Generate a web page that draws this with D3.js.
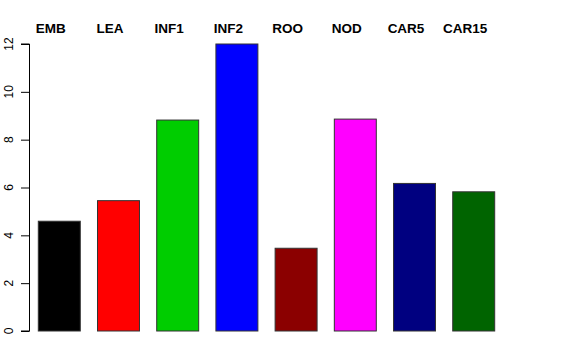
<!DOCTYPE html>
<html><head><meta charset="utf-8">
<script src="https://cdn.jsdelivr.net/npm/d3@7"></script>
<style>body{margin:0;background:#fff}svg{display:block}</style>
</head><body>
<script>
const categories = ["EMB","LEA","INF1","INF2","ROO","NOD","CAR5","CAR15"];
const values = [4.59, 5.45, 8.82, 12.0, 3.46, 8.86, 6.17, 5.82];
const colors = ["#000000","#ff0000","#00cd00","#0000ff","#8b0000","#ff00ff","#000080","#006400"];
const yTicks = [0,2,4,6,8,10,12];

const W = 576, H = 360;
const svg = d3.select("body").append("svg").attr("width", W).attr("height", H);

const x = d3.scaleBand().domain(categories).range([38.3, 494.7]).paddingInner(0.291).paddingOuter(0);
const y = d3.scaleLinear().domain([0, 12]).range([331, 44]);

svg.selectAll("rect.bar").data(categories).enter().append("rect")
  .attr("class","bar")
  .attr("x", d => x(d))
  .attr("y", (d,i) => y(values[i]))
  .attr("width", x.bandwidth())
  .attr("height", (d,i) => y(0) - y(values[i]))
  .attr("fill", (d,i) => colors[i])
  .attr("stroke", "#333")
  .attr("stroke-width", 1);

// y axis
const ax = svg.append("g").attr("transform", "translate(29.5,0)");
ax.call(d3.axisLeft(y).tickValues(yTicks).tickSize(8.5).tickFormat(""));
ax.select(".domain").attr("d", `M-8.5,${y(0)}H0V${y(12)}H-8.5`).attr("stroke","#000").attr("fill","none");
ax.selectAll(".tick line").attr("stroke","#000");
svg.selectAll("text.ylab").data(yTicks).enter().append("text")
  .attr("class","ylab")
  .attr("transform", d => `translate(12.7,${y(d)}) rotate(-90)`)
  .attr("text-anchor","middle")
  .attr("font-family","Liberation Sans, Arial, sans-serif")
  .attr("font-size", 12)
  .attr("fill","#000")
  .text(d => d);

// top labels
svg.selectAll("text.cat").data(categories).enter().append("text")
  .attr("class","cat")
  .attr("x", d => x(d) + x.bandwidth()/2 - 8.5)
  .attr("y", 33.4)
  .attr("text-anchor","middle")
  .attr("font-family","Liberation Sans, Arial, sans-serif")
  .attr("font-weight","bold")
  .attr("font-size", 13.5)
  .attr("fill","#000")
  .text(d => d);
</script>
</body></html>
